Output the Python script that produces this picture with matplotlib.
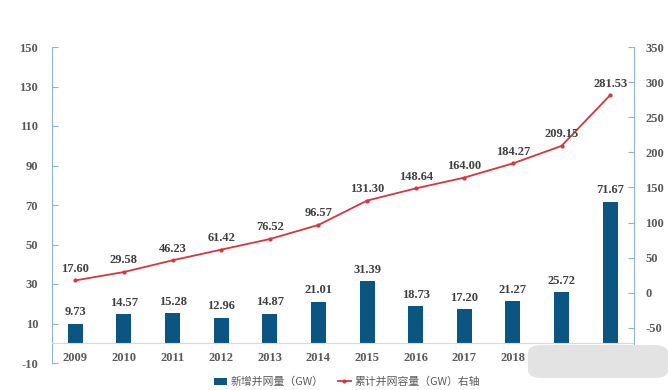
import matplotlib
matplotlib.use("Agg")
import matplotlib.pyplot as plt
from matplotlib.patches import FancyBboxPatch, Patch
from matplotlib.lines import Line2D

years = ["2009", "2010", "2011", "2012", "2013", "2014", "2015", "2016", "2017", "2018", "2019", "2020"]
new_gw = [9.73, 14.57, 15.28, 12.96, 14.87, 21.01, 31.39, 18.73, 17.20, 21.27, 25.72, 71.67]
cum_gw = [17.60, 29.58, 46.23, 61.42, 76.52, 96.57, 131.30, 148.64, 164.00, 184.27, 209.15, 281.53]
left_ticks = [-10, 10, 30, 50, 70, 90, 110, 130, 150]
right_ticks = [-50, 0, 50, 100, 150, 200, 250, 300, 350]
legend_labels = ["新增并网量（GW）", "累计并网容量（GW）右轴"]

plt.rcParams["font.family"] = ["Liberation Serif", "DejaVu Serif"]
plt.rcParams["font.weight"] = "bold"

BAR = "#0b5582"
LINE = "#d6363d"
SPINE = "#8fb4d2"
TICK = "#595959"
LAB = "#404040"

W, H = 668, 390
fig = plt.figure(figsize=(W / 100, H / 100), dpi=100)
fig.patch.set_facecolor("white")
ax = fig.add_axes([52 / W, 1 - 363 / H, (634 - 52) / W, (363 - 47) / H])
x = list(range(len(years)))

ax.bar(x, new_gw, width=0.31, color=BAR, zorder=2)
ax2 = ax.twinx()
ax2.plot(x, cum_gw, color=LINE, lw=1.3, marker="o", ms=2, zorder=3)

ax.set_ylim(-10, 150)
ax.set_xlim(-0.48, len(years) - 0.51)
ax.set_yticks(left_ticks)
ax.set_yticklabels([str(t) for t in left_ticks])
ax.tick_params(axis="y", direction="in", length=4, color=SPINE, pad=10,
               labelsize=9, labelcolor=TICK)
ax.set_xticks(x)
ax.set_xticklabels(years)
ax.tick_params(axis="x", length=0, pad=6, labelsize=9, labelcolor=TICK)
for s in ["top", "right"]:
    ax.spines[s].set_visible(False)
ax.spines["bottom"].set_position(("data", 0))
ax.spines["bottom"].set_color("#d9d9d9")
ax.spines["left"].set_color(SPINE)
for xi, v in zip(x, new_gw):
    ax.annotate(f"{v:.2f}", (xi, v), xytext=(0, 4), textcoords="offset points",
                ha="center", va="bottom", fontsize=9, color=LAB, fontweight="bold")

ax2.set_ylim(-100, 350)
ax2.set_yticks(right_ticks)
ax2.set_yticklabels([str(t) for t in right_ticks])
ax2.tick_params(axis="y", direction="in", length=4, color=SPINE, pad=8,
                labelsize=9, labelcolor=TICK)
for s in ["top", "left", "bottom"]:
    ax2.spines[s].set_visible(False)
ax2.spines["right"].set_color(SPINE)
for xi, v in zip(x, cum_gw):
    ax2.annotate(f"{v:.2f}", (xi, v), xytext=(0, 4), textcoords="offset points",
                 ha="center", va="bottom", fontsize=9, color=LAB, fontweight="bold")

handles = [Patch(facecolor=BAR), Line2D([0], [0], color=LINE, lw=1.3, marker="o", ms=2)]
fig.legend(handles, legend_labels, loc="center", bbox_to_anchor=(347 / W, 1 - 382 / H),
           ncol=2, frameon=False,
           prop={"family": ["Noto Sans CJK SC", "DejaVu Sans"], "size": 7.8, "weight": "normal"},
           labelcolor=TICK, handlelength=1.2, columnspacing=1.3, handletextpad=0.3,
           borderpad=0)

fig.patches.append(FancyBboxPatch((528 / W, 1 - 378 / H), 140 / W, 33 / H,
                                  boxstyle="round,pad=0,rounding_size=0.02",
                                  transform=fig.transFigure, facecolor="#e3e3e3",
                                  edgecolor="none", zorder=10))

fig.savefig("out.png", dpi=100)
